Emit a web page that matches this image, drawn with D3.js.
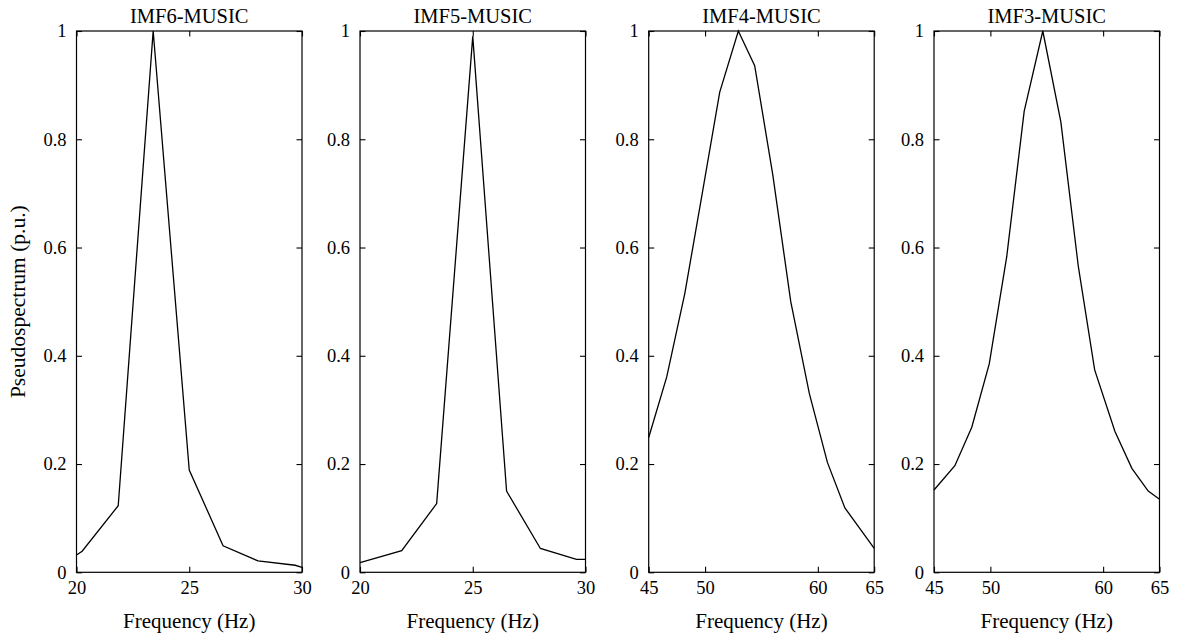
<!DOCTYPE html>
<html>
<head>
<meta charset="utf-8">
<script src="https://cdn.jsdelivr.net/npm/d3@7"></script>
<style>
  body { margin: 0; background: #fff; }
  svg text { font-family: "Liberation Serif", "DejaVu Serif", serif; fill: #000; }
</style>
</head>
<body>
<div id="chart"></div>
<script>
var width = 1177,
    height = 639;

// panel titles and axis ranges
var titles = ["IMF6-MUSIC", "IMF5-MUSIC", "IMF4-MUSIC", "IMF3-MUSIC"];
var xDomains = [[20, 30], [20, 30], [45, 65], [45, 65]];
var xTickVals = [[20, 25, 30], [20, 25, 30], [45, 50, 60, 65], [45, 50, 60, 65]];
var yTickVals = [0, 0.2, 0.4, 0.6, 0.8, 1];

// pseudospectrum curves
var imf6Freq = [20, 20.25, 21.85, 23.4, 25.0, 26.5, 28.05, 29.7, 30];
var imf6Val  = [0.032, 0.039, 0.123, 1.0, 0.189, 0.049, 0.021, 0.013, 0.009];

var imf5Freq = [20, 21.85, 23.4, 25.0, 26.5, 28.0, 29.6, 30];
var imf5Val  = [0.018, 0.040, 0.127, 0.99, 0.150, 0.044, 0.024, 0.024];

var imf4Freq = [45, 46.6, 48.2, 49.75, 51.3, 52.95, 54.4, 56.0, 57.6, 59.25, 60.85, 62.4, 65];
var imf4Val  = [0.249, 0.361, 0.515, 0.70, 0.887, 1.0, 0.936, 0.735, 0.50, 0.33, 0.203, 0.119, 0.044];

var imf3Freq = [45, 46.85, 48.35, 49.9, 51.45, 53.0, 54.65, 56.25, 57.8, 59.25, 61.05, 62.55, 64.0, 65];
var imf3Val  = [0.152, 0.197, 0.268, 0.385, 0.583, 0.852, 1.0, 0.832, 0.565, 0.374, 0.26, 0.192, 0.150, 0.135];

var freqs = [imf6Freq, imf5Freq, imf4Freq, imf3Freq];
var vals = [imf6Val, imf5Val, imf4Val, imf3Val];

var panelLeft = [76.5, 360, 648.7, 934],
    panelW = 225.5,
    plotTop = 31,
    plotBottom = 572.3,
    tickLen = 5.5;

var svg = d3.select("#chart")
    .append("svg")
    .attr("width", width)
    .attr("height", height);

var y = d3.scaleLinear()
    .domain([0, 1])
    .range([plotBottom, plotTop]);

titles.forEach(function(t, i){
  var x = d3.scaleLinear()
      .domain(xDomains[i])
      .range([panelLeft[i], panelLeft[i] + panelW]);

  var g = svg.append("g").attr("class", "panel");

  // bottom axis with labels, ticks pointing inward
  g.append("g")
      .attr("transform", "translate(0," + plotBottom + ")")
      .call(d3.axisBottom(x).tickValues(xTickVals[i]).tickSizeInner(-tickLen).tickSizeOuter(0).tickPadding(9).tickFormat(d3.format("d")))
      .call(function(a){ a.select(".domain").remove(); })
      .selectAll("text").style("font-size", "18.5px");

  g.append("g")
      .attr("transform", "translate(0," + plotTop + ")")
      .call(d3.axisTop(x).tickValues(xTickVals[i]).tickSizeInner(-tickLen).tickSizeOuter(0).tickFormat(""))
      .call(function(a){ a.select(".domain").remove(); });

  g.append("g")
      .attr("transform", "translate(" + panelLeft[i] + ",0)")
      .call(d3.axisLeft(y).tickValues(yTickVals).tickSizeInner(-tickLen).tickSizeOuter(0).tickPadding(10).tickFormat(function(d){ return String(d); }))
      .call(function(a){ a.select(".domain").remove(); })
      .selectAll("text").style("font-size", "18.5px");

  g.append("g")
      .attr("transform", "translate(" + (panelLeft[i] + panelW) + ",0)")
      .call(d3.axisRight(y).tickValues(yTickVals).tickSizeInner(-tickLen).tickSizeOuter(0).tickFormat(""))
      .call(function(a){ a.select(".domain").remove(); });

  g.selectAll(".tick line").attr("stroke", "#000").attr("stroke-width", 1.1);

  // frame
  g.append("rect")
      .attr("x", panelLeft[i])
      .attr("y", plotTop)
      .attr("width", panelW)
      .attr("height", plotBottom - plotTop)
      .attr("fill", "none")
      .attr("stroke", "#000")
      .attr("stroke-width", 1.2);

  var pts = freqs[i].map(function(f, j){ return [f, vals[i][j]]; });

  g.append("path")
      .datum(pts)
      .attr("fill", "none")
      .attr("stroke", "#000")
      .attr("stroke-width", 1.3)
      .attr("stroke-linejoin", "miter")
      .attr("d", d3.line()
        .x(function(d){ return x(d[0]); })
        .y(function(d){ return y(d[1]); }));

  g.append("text")
      .attr("x", panelLeft[i] + panelW / 2)
      .attr("y", 22.5)
      .attr("text-anchor", "middle")
      .style("font-size", "20.5px")
      .text(t);

  g.append("text")
      .attr("x", panelLeft[i] + panelW / 2)
      .attr("y", 628)
      .attr("text-anchor", "middle")
      .style("font-size", "21px")
      .text("Frequency (Hz)");
});

svg.append("text")
    .attr("transform", "translate(25," + ((plotTop + plotBottom) / 2) + ") rotate(-90)")
    .attr("text-anchor", "middle")
    .style("font-size", "21.5px")
    .text("Pseudospectrum (p.u.)");
</script>
</body>
</html>
